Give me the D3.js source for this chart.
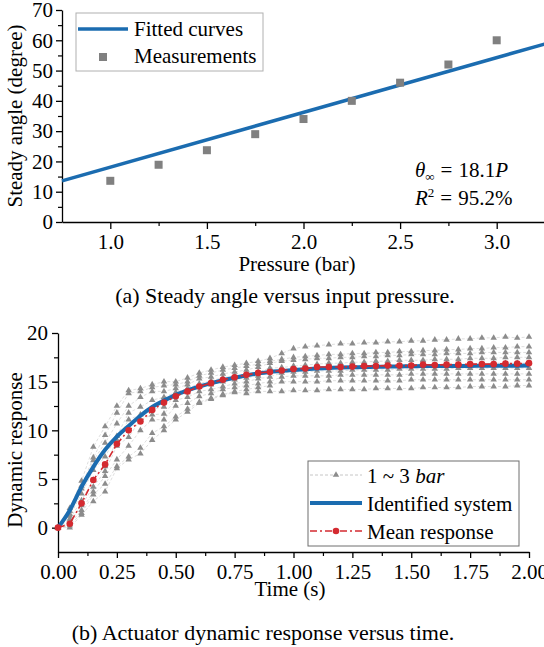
<!DOCTYPE html>
<html>
<head>
<meta charset="utf-8">
<script src="https://cdn.jsdelivr.net/npm/d3@7"></script>
<style>
  body { margin: 0; background: #fff; }
  svg text { font-family: "Liberation Serif", "Times New Roman", serif; fill: #000; }
</style>
</head>
<body>
<svg id="chart" width="544" height="647"></svg>
<script>
// ---- (a) steady angle data
const pressure = [1.0, 1.25, 1.5, 1.75, 2.0, 2.25, 2.5, 2.75, 3.0];
const angle = [13.6, 18.9, 23.7, 29.0, 34.0, 40.0, 46.0, 52.0, 60.0];
const fitP = [0.75, 3.25];
const fitAngle = [13.6, 58.8];
const angleTicks = [0, 10, 20, 30, 40, 50, 60, 70];
const pressureTicks = [1.0, 1.5, 2.0, 2.5, 3.0];

// ---- (b) dynamic response data
const time = [0, 0.05, 0.1, 0.15, 0.2, 0.25, 0.3, 0.35, 0.4, 0.45, 0.5, 0.55, 0.6, 0.65, 0.7, 0.75, 0.8, 0.85, 0.9, 0.95, 1.0,
  1.05, 1.1, 1.15, 1.2, 1.25, 1.3, 1.35, 1.4, 1.45, 1.5, 1.55, 1.6, 1.65, 1.7, 1.75, 1.8, 1.85, 1.9, 1.95, 2.0];
const meanResp = [0, 0.4, 2.5, 4.9, 6.5, 8.6, 10.0, 10.9, 12.1, 12.85, 13.5, 14.0, 14.5, 14.85, 15.2, 15.45, 15.7, 15.9, 16.0, 16.15, 16.3,
  16.35, 16.5, 16.5, 16.5, 16.55, 16.6, 16.6, 16.65, 16.65, 16.65, 16.75, 16.7, 16.75, 16.75, 16.8, 16.8, 16.8, 16.85, 16.85, 16.9];
const identified = [0, 1.8, 4.2, 6.25, 8.0, 9.35, 10.45, 11.5, 12.4, 13.05, 13.65, 14.1, 14.5, 14.85, 15.15, 15.4, 15.65, 15.85, 16.0, 16.1, 16.2,
  16.28, 16.35, 16.4, 16.45, 16.48, 16.5, 16.53, 16.55, 16.57, 16.58, 16.6, 16.6, 16.61, 16.62, 16.62, 16.63, 16.63, 16.64, 16.64, 16.65];
// measured runs, 1 ~ 3 bar
const runs = [
  [0, 2.0, 4.8, 8.3, 10.4, 12.5, 14.1, 14.3, 14.7, 15.0, 15.0, 15.4, 15.9, 16.2, 16.5, 16.7, 16.9, 17.1, 17.4, 17.9, 18.4,
   18.6, 18.7, 18.8, 18.9, 18.9, 19.0, 19.0, 19.1, 19.1, 19.2, 19.2, 19.3, 19.3, 19.4, 19.4, 19.5, 19.5, 19.6, 19.5, 19.6],
  [0, 1.7, 4.3, 7.2, 9.5, 11.8, 13.8, 14.0, 14.4, 14.6, 14.7, 15.0, 15.6, 15.9, 16.2, 16.4, 16.6, 16.8, 17.1, 17.3, 17.5,
   17.6, 17.7, 17.8, 17.8, 17.9, 17.9, 18.0, 18.0, 18.1, 18.1, 18.2, 18.2, 18.3, 18.3, 18.4, 18.4, 18.5, 18.5, 18.6, 18.6],
  [0, 1.4, 4.0, 6.9, 8.7, 10.7, 12.5, 13.4, 14.0, 14.0, 14.3, 14.7, 15.3, 15.5, 15.8, 16.0, 16.2, 16.5, 16.9, 17.1, 17.2,
   17.3, 17.4, 17.4, 17.5, 17.5, 17.6, 17.6, 17.7, 17.7, 17.8, 17.8, 17.8, 17.9, 17.9, 17.9, 18.0, 18.0, 18.0, 18.0, 18.0],
  [0, 1.2, 3.5, 5.9, 7.3, 9.4, 11.8, 12.4, 13.1, 13.4, 13.9, 14.3, 14.8, 15.1, 15.4, 15.6, 15.8, 16.0, 16.4, 16.45, 16.6,
   16.7, 16.8, 16.9, 16.9, 17.0, 17.0, 17.1, 17.1, 17.2, 17.2, 17.2, 17.3, 17.3, 17.3, 17.4, 17.4, 17.4, 17.5, 17.5, 17.5],
  [0, 0.9, 2.8, 4.9, 6.3, 9.0, 11.1, 11.6, 12.2, 12.4, 13.5, 13.9, 14.5, 14.7, 15.0, 15.2, 15.4, 15.6, 16.0, 16.1, 16.3,
   16.3, 16.4, 16.4, 16.5, 16.5, 16.5, 16.6, 16.6, 16.6, 16.7, 16.7, 16.7, 16.8, 16.8, 16.8, 16.8, 16.9, 16.9, 16.9, 16.9],
  [0, 0.6, 2.3, 4.2, 5.8, 8.4, 9.3, 11.1, 11.6, 11.7, 13.1, 13.4, 14.0, 14.2, 14.5, 14.8, 15.0, 15.3, 15.5, 15.9, 16.0,
   16.0, 16.1, 16.1, 16.1, 16.2, 16.2, 16.2, 16.2, 16.3, 16.3, 16.3, 16.3, 16.3, 16.4, 16.4, 16.4, 16.4, 16.4, 16.4, 16.4],
  [0, 0.4, 1.8, 3.7, 5.3, 7.0, 8.4, 10.0, 11.1, 11.1, 12.5, 12.8, 13.5, 13.8, 14.2, 14.4, 14.6, 14.8, 15.0, 15.5, 15.6,
   15.6, 15.6, 15.6, 15.7, 15.7, 15.7, 15.7, 15.7, 15.7, 15.8, 15.8, 15.8, 15.8, 15.8, 15.8, 15.8, 15.8, 15.8, 15.8, 15.8],
  [0, 0.2, 1.5, 3.4, 4.5, 6.3, 7.3, 8.2, 9.7, 10.4, 11.4, 12.2, 12.9, 13.3, 13.7, 14.0, 14.2, 14.4, 14.6, 15.0, 15.0,
   15.0, 15.0, 15.1, 15.1, 15.1, 15.1, 15.1, 15.1, 15.1, 15.2, 15.2, 15.2, 15.2, 15.2, 15.2, 15.2, 15.2, 15.2, 15.2, 15.2],
  [0, 0.0, 1.3, 2.7, 3.7, 6.1, 7.0, 7.6, 9.0, 10.0, 11.1, 11.9, 12.8, 13.2, 13.6, 13.9, 13.8, 14.0, 14.0, 14.0, 14.1,
   14.1, 14.1, 14.2, 14.2, 14.2, 14.2, 14.3, 14.3, 14.3, 14.3, 14.4, 14.4, 14.4, 14.4, 14.5, 14.5, 14.5, 14.5, 14.6, 14.6]
];
const respTicks = [0, 5, 10, 15, 20];
const timeTicks = [0, 0.25, 0.5, 0.75, 1.0, 1.25, 1.5, 1.75, 2.0];

const BLUE = "#1b6cb0", RED = "#d42a30", GREY = "#808080";
const svg = d3.select("#chart");

function minorTicks(g, axis) {
  g.call(axis);
  g.select(".domain").remove();
  g.selectAll("line").attr("stroke-width", 1.2);
}

// ================= (a) =================
const xa = d3.scaleLinear().domain([0.75, 3.25]).range([62, 545]);
const ya = d3.scaleLinear().domain([0, 70]).range([222, 10]);
const ga = svg.append("g");

ga.append("g").attr("transform", "translate(0,222)")
  .call(g => minorTicks(g, d3.axisBottom(xa).tickValues([1.25, 1.75, 2.25, 2.75]).tickSize(4).tickFormat("")));
ga.append("g").attr("transform", "translate(62,0)")
  .call(g => minorTicks(g, d3.axisLeft(ya).tickValues([5, 15, 25, 35, 45, 55, 65]).tickSize(4).tickFormat("")));

const axA = ga.append("g").attr("transform", "translate(0,222)")
  .call(d3.axisBottom(xa).tickValues(pressureTicks).tickFormat(d3.format(".1f")).tickSize(7).tickPadding(5).tickSizeOuter(0));
const ayA = ga.append("g").attr("transform", "translate(62,0)")
  .call(d3.axisLeft(ya).tickValues(angleTicks).tickSize(6).tickPadding(3).tickSizeOuter(0));
[axA, ayA].forEach(a => {
  a.selectAll("text").attr("font-size", 21).attr("font-family", "Liberation Serif");
  a.selectAll("line, path").attr("stroke-width", 1.3);
});

ga.append("path")
  .datum(fitP.map((p, i) => [p, fitAngle[i]]))
  .attr("d", d3.line().x(d => xa(d[0])).y(d => ya(d[1])))
  .attr("fill", "none").attr("stroke", BLUE).attr("stroke-width", 3.5);

ga.selectAll("rect.meas").data(pressure).join("rect")
  .attr("class", "meas")
  .attr("x", (d, i) => xa(d) - 4).attr("y", (d, i) => ya(angle[i]) - 4)
  .attr("width", 8).attr("height", 8).attr("fill", GREY);

// legend (a)
const la = ga.append("g");
la.append("rect").attr("x", 76).attr("y", 13).attr("width", 187).attr("height", 58)
  .attr("fill", "#fff").attr("stroke", "#b0b0b0").attr("stroke-width", 1);
la.append("line").attr("x1", 78).attr("x2", 128).attr("y1", 29).attr("y2", 29)
  .attr("stroke", BLUE).attr("stroke-width", 3.5);
la.append("rect").attr("x", 99).attr("y", 53).attr("width", 8).attr("height", 8).attr("fill", GREY);
la.append("text").attr("x", 134).attr("y", 36).attr("font-size", 21).text("Fitted curves");
la.append("text").attr("x", 134).attr("y", 63).attr("font-size", 21).text("Measurements");

// annotation
const t1 = ga.append("text").attr("x", 415).attr("y", 177).attr("font-size", 21);
t1.append("tspan").attr("font-style", "italic").text("θ");
t1.append("tspan").attr("font-size", 13).attr("dy", 4).text("∞");
t1.append("tspan").attr("dy", -4).attr("dx", 6).text("=");
t1.append("tspan").attr("dx", 6).text("18.1");
t1.append("tspan").attr("font-style", "italic").text("P");
const t2 = ga.append("text").attr("x", 415).attr("y", 205).attr("font-size", 21);
t2.append("tspan").attr("font-style", "italic").text("R");
t2.append("tspan").attr("font-size", 13).attr("dy", -8).text("2");
t2.append("tspan").attr("dy", 8).attr("dx", 6).text("=");
t2.append("tspan").attr("dx", 6).text("95.2%");

ga.append("text").attr("x", 297).attr("y", 271).attr("text-anchor", "middle")
  .attr("font-size", 21).text("Pressure (bar)");
ga.append("text").attr("transform", "translate(22,116) rotate(-90)").attr("text-anchor", "middle")
  .attr("font-size", 21).text("Steady angle (degree)");
svg.append("text").attr("x", 285).attr("y", 303).attr("text-anchor", "middle")
  .attr("font-size", 22).text("(a) Steady angle versus input pressure.");

// ================= (b) =================
const xb = d3.scaleLinear().domain([0, 2]).range([58, 529]);
const yb = d3.scaleLinear().domain([-2.5, 20]).range([552, 333]);
const gb = svg.append("g");

gb.append("g").attr("transform", "translate(0,552)")
  .call(g => minorTicks(g, d3.axisBottom(xb).tickValues([0.125, 0.375, 0.625, 0.875, 1.125, 1.375, 1.625, 1.875]).tickSize(4).tickFormat("")));
gb.append("g").attr("transform", "translate(58,0)")
  .call(g => minorTicks(g, d3.axisLeft(yb).tickValues([2.5, 7.5, 12.5, 17.5]).tickSize(4).tickFormat("")));

const axB = gb.append("g").attr("transform", "translate(0,552)")
  .call(d3.axisBottom(xb).tickValues(timeTicks).tickFormat(d3.format(".2f")).tickSize(6).tickPadding(6).tickSizeOuter(0));
const ayB = gb.append("g").attr("transform", "translate(58,0)")
  .call(d3.axisLeft(yb).tickValues(respTicks).tickSize(6).tickPadding(4).tickSizeOuter(0));
[axB, ayB].forEach(a => {
  a.selectAll("text").attr("font-size", 21).attr("font-family", "Liberation Serif");
  a.selectAll("line, path").attr("stroke-width", 1.3);
});

const lineB = d3.line().x((d, i) => xb(time[i])).y(d => yb(d));
const tri = d3.symbol().type(d3.symbolTriangle).size(18);

runs.forEach(run => {
  gb.append("path").datum(run).attr("d", lineB)
    .attr("fill", "none").attr("stroke", "#d6d6d6").attr("stroke-width", 0.8).attr("stroke-dasharray", "3,2");
});
runs.forEach(run => {
  gb.append("g").selectAll("path").data(run).join("path")
    .attr("d", tri).attr("fill", "#8c8c8c")
    .attr("transform", (d, i) => `translate(${xb(time[i])},${yb(d)})`);
});

gb.append("path").datum(identified)
  .attr("d", d3.line().x((d, i) => xb(time[i])).y(d => yb(d)).curve(d3.curveMonotoneX))
  .attr("fill", "none").attr("stroke", BLUE).attr("stroke-width", 4);

gb.append("path").datum(meanResp).attr("d", lineB)
  .attr("fill", "none").attr("stroke", RED).attr("stroke-width", 1.6).attr("stroke-dasharray", "7,3,2,3");
gb.append("g").selectAll("circle").data(meanResp).join("circle")
  .attr("cx", (d, i) => xb(time[i])).attr("cy", d => yb(d)).attr("r", 3.3).attr("fill", RED);

// legend (b)
const lb = gb.append("g");
lb.append("rect").attr("x", 308).attr("y", 461).attr("width", 211).attr("height", 85)
  .attr("fill", "#fff").attr("stroke", "#6e6e6e").attr("stroke-width", 1);
lb.append("line").attr("x1", 310).attr("x2", 362).attr("y1", 475).attr("y2", 475)
  .attr("stroke", "#b8b8b8").attr("stroke-width", 0.8).attr("stroke-dasharray", "3,2");
lb.append("path").attr("d", tri).attr("fill", "#8c8c8c").attr("transform", "translate(336,475)");
lb.append("line").attr("x1", 310).attr("x2", 362).attr("y1", 503).attr("y2", 503)
  .attr("stroke", BLUE).attr("stroke-width", 4);
lb.append("line").attr("x1", 310).attr("x2", 362).attr("y1", 531).attr("y2", 531)
  .attr("stroke", RED).attr("stroke-width", 1.6).attr("stroke-dasharray", "7,3,2,3");
lb.append("circle").attr("cx", 336).attr("cy", 531).attr("r", 3.3).attr("fill", RED);
const l1 = lb.append("text").attr("x", 367).attr("y", 483).attr("font-size", 21);
l1.append("tspan").text("1 ~ 3 ");
l1.append("tspan").attr("font-style", "italic").text("bar");
lb.append("text").attr("x", 367).attr("y", 511).attr("font-size", 21).text("Identified system");
lb.append("text").attr("x", 367).attr("y", 539).attr("font-size", 21).text("Mean response");

gb.append("text").attr("x", 290).attr("y", 596).attr("text-anchor", "middle")
  .attr("font-size", 21).text("Time (s)");
gb.append("text").attr("transform", "translate(22,450) rotate(-90)").attr("text-anchor", "middle")
  .attr("font-size", 21).text("Dynamic response");
svg.append("text").attr("x", 263).attr("y", 640).attr("text-anchor", "middle")
  .attr("font-size", 22).text("(b) Actuator dynamic response versus time.");
</script>
</body>
</html>
